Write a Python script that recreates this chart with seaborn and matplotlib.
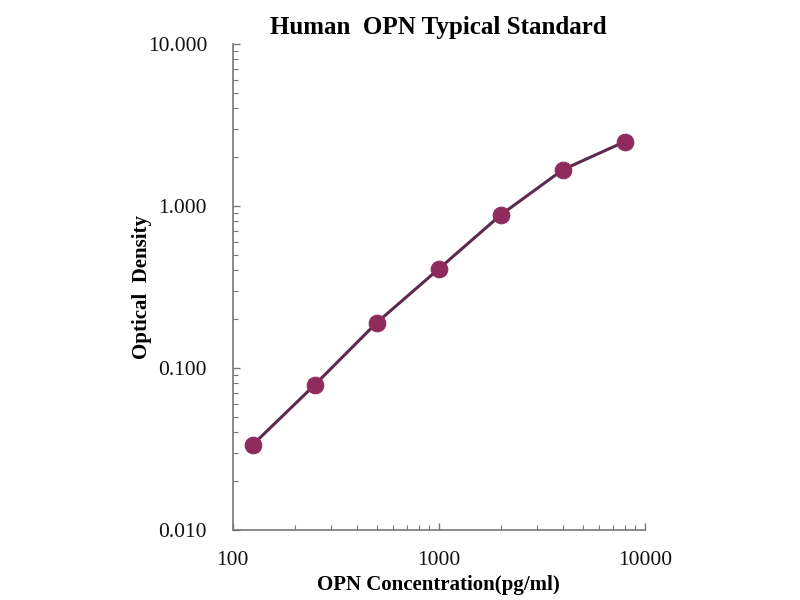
import numpy as np
import pandas as pd
import matplotlib
matplotlib.use('Agg')
import matplotlib.pyplot as plt
import seaborn as sns
from matplotlib.ticker import LogLocator, FixedLocator, FixedFormatter, NullFormatter

# data
concentration = [125, 250, 500, 1000, 2000, 4000, 8000]
optical_density = [0.0335, 0.0785, 0.190, 0.408, 0.879, 1.67, 2.49]

x_ticks = [100, 1000, 10000]
x_labels = ['100', '1000', '10000']
y_ticks = [0.01, 0.1, 1, 10]
y_labels = ['0.010', '0.100', '1.000', '10.000']

df = pd.DataFrame({'conc': concentration, 'od': optical_density})

sns.set_style('white')
plt.rcParams['font.family'] = ['Liberation Serif', 'DejaVu Serif']
plt.rcParams['text.color'] = 'black'
plt.rcParams['axes.labelcolor'] = 'black'

fig = plt.figure(figsize=(8, 6), dpi=100)
ax = fig.add_axes([0.291, 0.117, 0.515, 0.81])

sns.lineplot(data=df, x='conc', y='od', ax=ax, color='#5e2a4c', linewidth=2.2,
             marker='o', markersize=12, markerfacecolor='#8e2a5c',
             markeredgecolor='#8e2a5c', zorder=3)

ax.set_xscale('log')
ax.set_yscale('log')
ax.set_xlim(100, 10000)
ax.set_ylim(0.01, 10)

ax.xaxis.set_major_locator(FixedLocator(x_ticks))
ax.xaxis.set_major_formatter(FixedFormatter(x_labels))
ax.yaxis.set_major_locator(FixedLocator(y_ticks))
ax.yaxis.set_major_formatter(FixedFormatter(y_labels))
ax.xaxis.set_minor_locator(LogLocator(base=10, subs=np.arange(2, 10)))
ax.yaxis.set_minor_locator(LogLocator(base=10, subs=np.arange(2, 10)))
ax.xaxis.set_minor_formatter(NullFormatter())
ax.yaxis.set_minor_formatter(NullFormatter())

for side in ['top', 'right']:
    ax.spines[side].set_visible(False)
for side in ['left', 'bottom']:
    ax.spines[side].set_color('#777777')
    ax.spines[side].set_linewidth(1.2)

ax.tick_params(which='both', direction='in', bottom=True, left=True,
               color='#777777', labelsize=15.5, labelcolor='#111111')
ax.tick_params(which='major', length=5, width=1)
ax.tick_params(which='minor', length=3.5, width=0.8)
ax.tick_params(axis='y', pad=18.5)
ax.tick_params(axis='x', pad=15)

ax.set_title('Human  OPN Typical Standard', fontsize=18, fontweight='bold', pad=7)
ax.set_xlabel('OPN Concentration(pg/ml)', fontsize=15, fontweight='bold', labelpad=4)
ax.set_ylabel('Optical  Density', fontsize=15, fontweight='bold', labelpad=-3)

fig.savefig('out.png', dpi=100)
